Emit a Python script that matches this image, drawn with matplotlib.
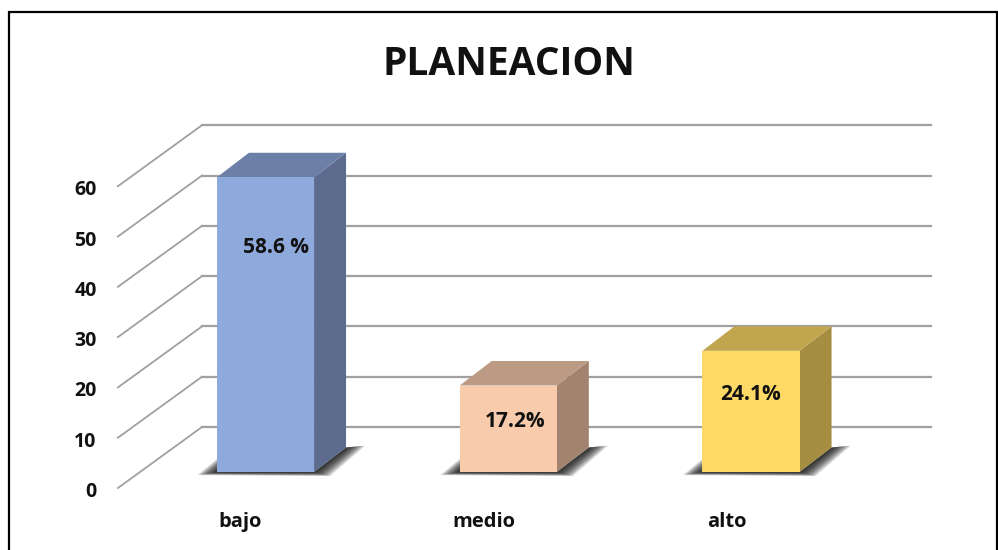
import matplotlib
matplotlib.use('Agg')
from matplotlib import pyplot as plt
from matplotlib.patches import Polygon, Rectangle

categories = ['bajo', 'medio', 'alto']
values = [58.6, 17.2, 24.1]
value_labels = ['58.6 %', '17.2%', '24.1%']
ticks = [0, 10, 20, 30, 40, 50, 60]
title = 'PLANEACION'

front_colors = ['#8EA9DB', '#F8CBAD', '#FFD966']
top_colors = ['#6C7FA6', '#BC9A83', '#C1A64E']
side_colors = ['#5D6C8E', '#A1836F', '#A58E42']

GRID = '#A0A0A0'
BAR_W = 0.4
# sizes of the fake 3d box, in data units
DX = 32 / 242.75
DY = 24.5 / 5.03
# wall and front edge of the floor, relative to the bars
BACK_X0, BACK_X1 = -0.2616, 2.7417
BACK_DY = 8.95
FRONT_X = -0.608
FRONT_DY = -3.18

plt.rcParams['font.family'] = ['Open Sans', 'DejaVu Sans']
plt.rcParams['font.weight'] = 'bold'

fig = plt.figure(figsize=(9.98, 5.5), dpi=100)
ax = fig.add_axes([0, 0, 1, 1])
ax.set_xlim(-1.0937, 3.0175)
ax.set_ylim(-15.5, 93.84)
ax.axis('off')

# frame of the picture
fig.add_artist(Rectangle((8.5 / 998, -0.01), 988 / 998, 1 - 12 / 550 + 0.01, transform=fig.transFigure,
                         fill=False, edgecolor='black', linewidth=1.6))

for t in ticks:
    ax.plot([FRONT_X, BACK_X0], [t + FRONT_DY, t + BACK_DY], color=GRID, lw=1.3, zorder=1)
    ax.plot([BACK_X0, BACK_X1], [t + BACK_DY, t + BACK_DY], color=GRID, lw=1.6, zorder=1)
    ax.text(FRONT_X - 0.088, t + FRONT_DY - 0.8, str(t), ha='right', va='center', fontsize=14, color='#111111')

for i, v in enumerate(values):
    x0 = i - BAR_W / 2
    x1 = i + BAR_W / 2
    # soft shadow on the floor
    for k in range(1, 11):
        f = k / 10
        sh = [(x0, 2.6 * f), (x0 - 0.08 * f, -0.6 * f), (x1 + 0.066 * f, -0.8 * f),
              (x1 + DX + 0.08 * f, DY + 0.4 * f), (x1 + DX, DY), (x1, 0)]
        ax.add_patch(Polygon(sh, closed=True, facecolor='black', edgecolor='none', alpha=0.14, zorder=2))
    ax.add_patch(Polygon([(x1, 0), (x1 + DX, DY), (x1 + DX, v + DY), (x1, v)],
                         closed=True, facecolor=side_colors[i], edgecolor='none', zorder=3))
    ax.add_patch(Polygon([(x0, v), (x1, v), (x1 + DX, v + DY), (x0 + DX, v + DY)],
                         closed=True, facecolor=top_colors[i], edgecolor='none', zorder=3))
    ax.add_patch(Rectangle((x0, 0), BAR_W, v, facecolor=front_colors[i], edgecolor='none', zorder=4))

label_y = [44.6, 10.0, 15.4]
label_x = [0.043, 0.03, 0.0]
for i, lab in enumerate(value_labels):
    ax.text(i + label_x[i], label_y[i], lab, ha='center', va='center', fontsize=15, color='#111111', zorder=5)

cat_x = [-0.105, 0.9, 1.899]
for i, c in enumerate(categories):
    ax.text(cat_x[i], -11, c, ha='center', va='baseline', fontsize=14.5, color='#111111')

fig.text(508.5 / 998, 1 - 75 / 550, title, ha='center', va='baseline', fontsize=28, color='#111111')

fig.savefig('out.png', dpi=100)
